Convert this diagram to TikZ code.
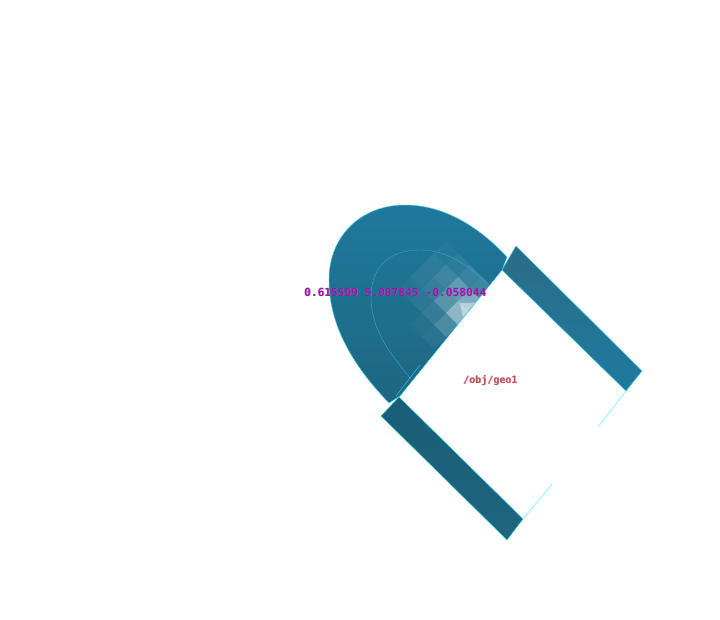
\documentclass[tikz,border=0pt]{standalone}
\usepackage{fontspec}
\setmonofont{DejaVu Sans Mono}
\usepackage{tikz}
\usetikzlibrary{positioning}
\definecolor{tealtop}{HTML}{1F7A9E}
\definecolor{tealdark}{HTML}{1D6580}
\definecolor{tealmid}{HTML}{1E6F8E}
\definecolor{barslate}{HTML}{2A6C88}
\definecolor{edgecyan}{HTML}{3CCFEA}
\definecolor{wirecyan}{HTML}{8CF4FF}
\definecolor{coordink}{HTML}{A30FB5}
\definecolor{pathink}{HTML}{CC4F55}
\tikzstyle{shell} = [draw=edgecyan,line width=0.45pt,line join=round]
\tikzstyle{contour} = [draw=edgecyan!60!tealtop,line width=0.4pt]
\tikzstyle{wire} = [draw=wirecyan,line width=0.8pt]
\tikzstyle{coordlabel} = [font=\ttfamily\bfseries\fontsize{11.2}{12}\selectfont,text=coordink,inner sep=0]
\tikzstyle{pathlabel} = [font=\ttfamily\bfseries\fontsize{10}{12}\selectfont,text=pathink,inner sep=0]
\tikzstyle{ghost} = [text=black!45,text opacity=.7]
\def\domepath{(389,403) .. controls (365,378) and (329,335) .. (329,280) .. controls (329,235) and (362,205) .. (405,205) .. controls (445,205) and (480,228) .. (507,257) -- (502,270) -- (400,396) -- cycle}
\begin{document}
\begin{tikzpicture}[x=1pt,y=-1pt]
  \useasboundingbox (0,0) rectangle (720,620);
  \fill[white] (0,0) rectangle (720,620);
  % dome
  \begin{scope}
    \clip \domepath;
    \shade[shading angle=35,top color=tealtop,bottom color=tealdark] (300,190) rectangle (530,420);
    % lighter facets
    \foreach \i/\j/\o in {0/0/.06,1/0/.1,2/0/.26,3/0/.5,0/1/.07,1/1/.14,2/1/.3,3/1/.42,0/2/.03,1/2/.07,2/2/.12,3/2/.14,0/-1/.03,1/-1/.06,2/-1/.1,3/-1/.2,2/-2/.03,3/-2/.05}{
      \fill[white,fill opacity=\o,shift={(422+\i*12+\j*12,277+\i*12-\j*12)}]
        (0,-12) -- (12,0) -- (0,12) -- (-12,0) -- cycle;
    }
    \fill[white,fill opacity=.45] (460,303) -- (475,303) -- (463,317) -- cycle;
  \end{scope}
  \draw[shell] \domepath;
  \draw[shell] (396,396) -- (420,365);
  \draw[contour] (410,378) .. controls (398,362) and (371,335) .. (371,297) .. controls (371,268) and (388,250) .. (420,250) .. controls (450,250) and (470,268) .. (487,283);
  % bars
  \shade[shell,shading angle=135,top color=barslate,bottom color=tealtop] (516,246) -- (642,371) -- (626,391) -- (502,270) -- cycle;
  \shade[shell,top color=tealdark!92!black,bottom color=tealdark] (381,416) -- (399,397) -- (523,519) -- (507,540) -- cycle;
  % broken wire edge
  \coordinate (a) at (626,391);
  \coordinate (b) at (598,427);
  \coordinate (c) at (552,484);
  \coordinate (d) at (523,519);
  \draw[wire] (a) -- (b);
  \draw[wire] (c) -- (d);
  % labels
  \node[coordlabel,ghost,anchor=west] (coordback) at (304.6,292.5) {0.615509 5.087845 -0.058044};
  \node[coordlabel,anchor=west] (coordtext) at (304,292) {0.615509 5.087845 -0.058044};
  \node[pathlabel,ghost,anchor=west] (pathback) at (463.6,380.5) {/obj/geo1};
  \node[pathlabel,anchor=west] (pathtext) at (463,380) {/obj/geo1};
\end{tikzpicture}
\end{document}
